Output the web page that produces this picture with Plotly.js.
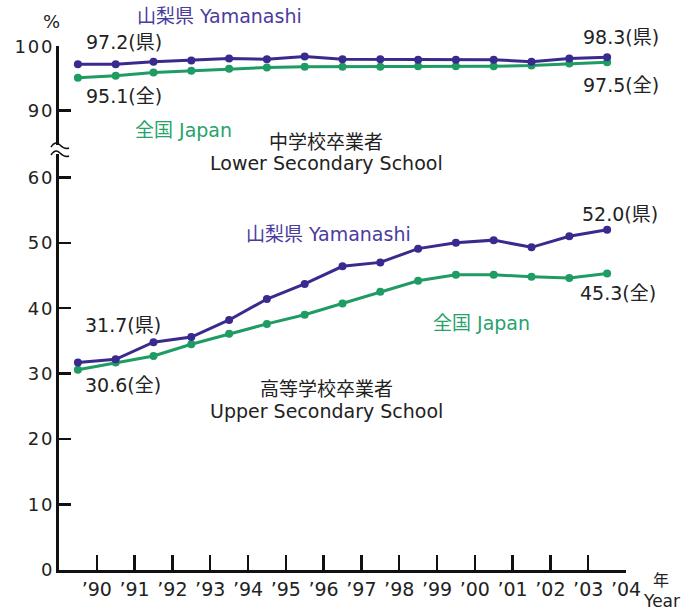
<!DOCTYPE html>
<html>
<head>
<meta charset="utf-8">
<script src="https://cdn.plot.ly/plotly-3.0.1.min.js"></script>
<style>html,body{margin:0;padding:0;background:#fff;}</style>
</head>
<body>
<div id="chart" style="width:699px;height:612px;"></div>
<script>
// ---- Data ----
const years = [1990,1991,1992,1993,1994,1995,1996,1997,1998,1999,2000,2001,2002,2003,2004];
const tickLabels = ["’90","’91","’92","’93","’94","’95","’96","’97","’98","’99","’00","’01","’02","’03","’04"];
// 中学校卒業者 (Lower Secondary School) advancement rate, %
const lowerSecPref  = [97.2, 97.2, 97.6, 97.8, 98.1, 98.0, 98.4, 98.0, 98.0, 97.9, 97.9, 97.9, 97.6, 98.1, 98.3];
const lowerSecJapan = [95.1, 95.4, 95.9, 96.2, 96.5, 96.7, 96.8, 96.8, 96.8, 96.9, 96.9, 96.9, 97.0, 97.3, 97.5];
// 高等学校卒業者 (Upper Secondary School) advancement rate, %
const upperSecPref  = [31.7, 32.2, 34.8, 35.6, 38.2, 41.4, 43.7, 46.4, 47.0, 49.1, 50.0, 50.4, 49.3, 51.0, 52.0];
const upperSecJapan = [30.6, 31.7, 32.7, 34.5, 36.1, 37.6, 39.0, 40.7, 42.5, 44.2, 45.1, 45.1, 44.8, 44.6, 45.3];
const lowerTicks = [0,10,20,30,40,50,60];
const upperTicks = [90,100];

// ---- Styles ----
const PURPLE = '#3b2a8e';
const GREEN = '#1f9b64';
const PURPLE_TXT = '#4a3c9e';
const GREEN_TXT = '#27a26b';
const INK = '#111';
const TXT = '#222';
const FONT = 'DejaVu Sans, Noto Sans CJK JP, sans-serif';
const spaced = (v) => String(v).split('').join('\u200A');

// layout geometry (pixels)
const W = 699, H = 612, ML = 59, MR = 73, MT = 46, MB = 42;
const PW = W - ML - MR, PH = H - MT - MB;
const px2paper = (px) => (px - ML) / PW;
const py2paper = (py) => (H - MB - py) / PH;

function series(y, color, axis) {
  return {
    x: years, y: y, type: 'scatter', mode: 'lines+markers', yaxis: axis,
    line: {color: color, width: 3}, marker: {color: color, size: 8},
    cliponaxis: false, hoverinfo: 'skip'
  };
}

const data = [
  series(lowerSecJapan, GREEN, 'y2'),
  series(lowerSecPref, PURPLE, 'y2'),
  series(upperSecJapan, GREEN, 'y'),
  series(upperSecPref, PURPLE, 'y')
];

const last = years.length - 1;
function valLabel(arr, idx, axis, suffix, xshift, yshift) {
  return {
    x: years[idx], y: arr[idx], xref: 'x', yref: axis,
    text: arr[idx].toFixed(1) + suffix, showarrow: false,
    xanchor: 'left', yanchor: 'middle', xshift: xshift, yshift: yshift,
    font: {family: FONT, size: 19, color: TXT}
  };
}
function txt(text, px, py, anchor, color, size) {
  return {
    x: px2paper(px), y: py2paper(py), xref: 'paper', yref: 'paper',
    text: text, showarrow: false, xanchor: anchor, yanchor: 'middle',
    font: {family: FONT, size: size || 19, color: color || TXT}
  };
}

const annotations = [
  valLabel(lowerSecPref, 0, 'y2', '(県)', 6, 22),
  valLabel(lowerSecJapan, 0, 'y2', '(全)', 6, -18),
  valLabel(lowerSecPref, last, 'y2', '(県)', -26, 20),
  valLabel(lowerSecJapan, last, 'y2', '(全)', -26, -23),
  valLabel(upperSecPref, last, 'y', '(県)', -27, 16),
  valLabel(upperSecJapan, last, 'y', '(全)', -29, -19),
  valLabel(upperSecPref, 0, 'y', '(県)', 5, 38),
  valLabel(upperSecJapan, 0, 'y', '(全)', 5, -15),
  txt('山梨県 Yamanashi', 135, 16, 'left', PURPLE_TXT),
  txt('全国 Japan', 133, 130, 'left', GREEN_TXT),
  txt('中学校卒業者', 326, 142, 'center'),
  txt('Lower Secondary School', 326, 163, 'center'),
  txt('山梨県 Yamanashi', 244, 234, 'left', PURPLE_TXT),
  txt('全国 Japan', 431, 323, 'left', GREEN_TXT),
  txt('高等学校卒業者', 326, 389, 'center'),
  txt('Upper Secondary School', 326, 411, 'center'),
  txt('%', 51, 21, 'center', TXT, 18),
  txt('年', 661, 580, 'center', TXT, 16),
  txt('Year', 661, 601, 'center', TXT, 17)
];

function pxPath(cmds) {
  return cmds.map(c => c[0] + ' ' + c.slice(1).map((v, i) => i % 2 === 0 ? px2paper(v).toFixed(5) : py2paper(v).toFixed(5)).join(',')).join(' ');
}
const squiggle1 = pxPath([['M', 51, 147], ['C', 55, 141, 58, 143, 60, 145], ['S', 65, 150, 69, 148]]);
const squiggle2 = pxPath([['M', 51, 155], ['C', 55, 149, 58, 151, 60, 153], ['S', 65, 158, 69, 156]]);

const axisCommon = {
  showgrid: false, zeroline: false, showline: true, linecolor: INK, linewidth: 3,
  ticks: 'inside', tickcolor: INK, tickwidth: 2.5,
  tickfont: {family: FONT, size: 19, color: TXT}, fixedrange: true
};

const layout = {
  width: W, height: H,
  margin: {l: ML, r: MR, t: MT, b: MB, pad: 0},
  paper_bgcolor: '#fff', plot_bgcolor: '#fff',
  showlegend: false,
  xaxis: Object.assign({}, axisCommon, {
    range: [1989.5, 2004.5], tickmode: 'array',
    tickvals: years.map(y => y + 0.5), ticktext: tickLabels, ticklen: 15
  }),
  yaxis: Object.assign({}, axisCommon, {
    domain: [0, py2paper(154)], range: [0, 63.56], tickmode: 'array',
    tickvals: lowerTicks, ticktext: lowerTicks.map(spaced), ticklen: 12, anchor: 'x',
    tickfont: {family: FONT, size: 18, color: TXT}
  }),
  yaxis2: Object.assign({}, axisCommon, {
    domain: [py2paper(145), 1], range: [84.6, 100.05], tickmode: 'array',
    tickvals: upperTicks, ticktext: upperTicks.map(spaced), ticklen: 12, anchor: 'x',
    tickfont: {family: FONT, size: 18, color: TXT}
  }),
  annotations: annotations,
  shapes: [
    {type: 'path', xref: 'paper', yref: 'paper', path: squiggle1, line: {color: INK, width: 1.5}},
    {type: 'path', xref: 'paper', yref: 'paper', path: squiggle2, line: {color: INK, width: 1.5}}
  ]
};

Plotly.newPlot('chart', data, layout, {displayModeBar: false, staticPlot: true});
</script>
</body>
</html>
